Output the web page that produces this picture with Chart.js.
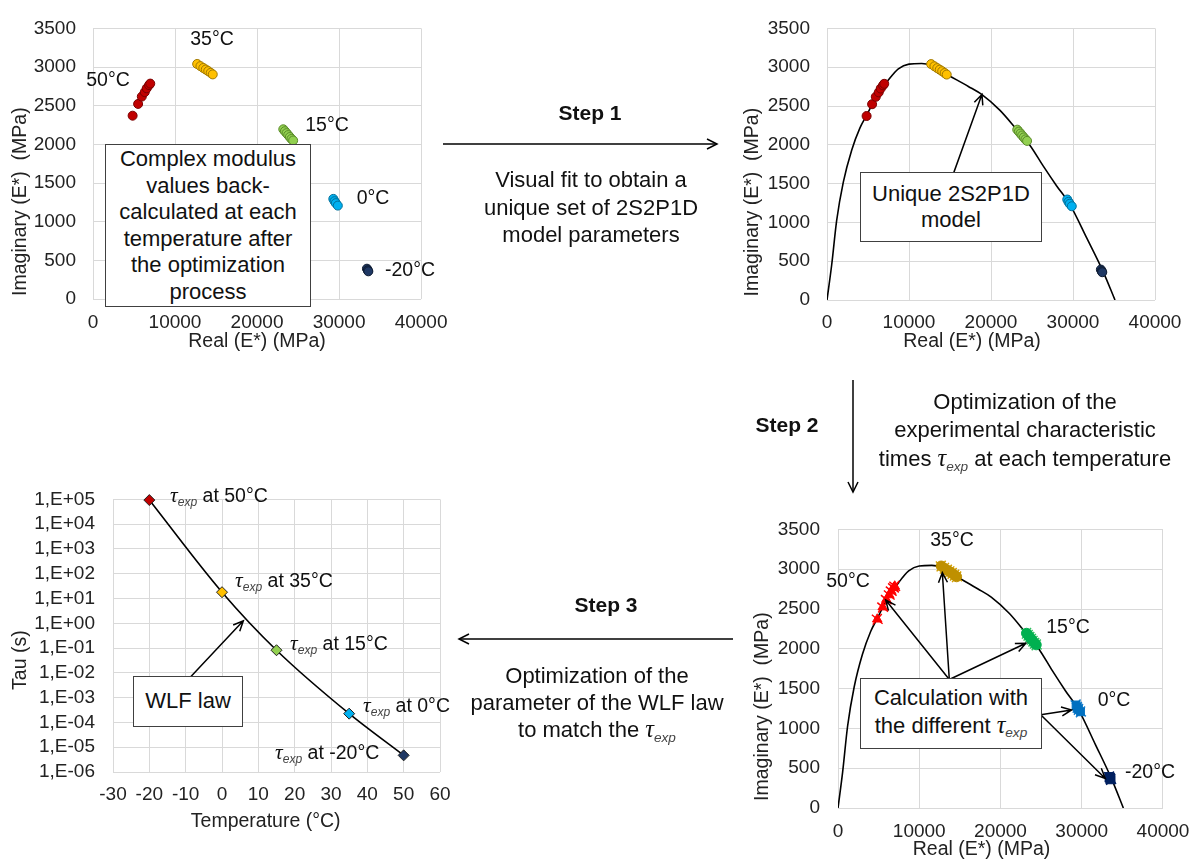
<!DOCTYPE html>
<html><head><meta charset="utf-8">
<script src="https://cdn.jsdelivr.net/npm/chart.js@4.4.1/dist/chart.umd.min.js"></script>
<style>
body{margin:0;width:1202px;height:864px;background:#fff;position:relative;overflow:hidden;font-family:"Liberation Sans",Arial,sans-serif;color:#111}
canvas{position:absolute}
.box{position:absolute;border:1.5px solid #404040;background:#fff;box-sizing:border-box;display:flex;flex-direction:column;justify-content:center;align-items:center;text-align:center;font-size:22px;line-height:26.5px;z-index:3}
.txt{position:absolute;text-align:center;font-size:22px;white-space:nowrap;transform:translateX(-50%);z-index:3}
.bold{font-weight:bold;font-size:21px;transform:translate(-50%,-50%)}
.lbl{position:absolute;font-size:19.5px;white-space:nowrap;transform:translate(-50%,-50%);z-index:3}
.tl{position:absolute;font-size:19.5px;white-space:nowrap;transform:translateY(-50%);z-index:3}
.tau{font-family:"Liberation Serif","DejaVu Serif",serif;font-style:italic;font-size:1.1em}
.sb{font-style:italic;font-size:0.62em;position:relative;top:0.35em;color:#444}
svg{position:absolute;left:0;top:0;z-index:2}
</style></head>
<body>
<canvas id="c1" width="460" height="360" style="left:0;top:0"></canvas>
<canvas id="c2" width="462" height="360" style="left:740px;top:0"></canvas>
<canvas id="c3" width="470" height="370" style="left:0;top:470px"></canvas>
<canvas id="c4" width="462" height="364" style="left:740px;top:500px"></canvas>

<svg width="1202" height="864">
  <g stroke="#000" stroke-width="1.5" fill="none">
    <line x1="443" y1="144" x2="717" y2="144"/><polyline points="707,139 717,144 707,149"/>
    <line x1="853" y1="380" x2="853" y2="492"/><polyline points="848,482 853,492 858,482"/>
    <line x1="733" y1="639" x2="459" y2="639"/><polyline points="469,634 459,639 469,644"/>
  </g>
</svg>

<div class="txt bold" style="left:590px;top:113px">Step 1</div>
<div class="txt" style="left:591px;top:166px;line-height:27.5px">Visual fit to obtain a<br>unique set of 2S2P1D<br>model parameters</div>
<div class="txt bold" style="left:787px;top:425px">Step 2</div>
<div class="txt" style="left:1025px;top:388px;line-height:28px">Optimization of the<br>experimental characteristic<br>times <span class="tau">τ</span><span class="sb">exp</span> at each temperature</div>
<div class="txt bold" style="left:606px;top:605px">Step 3</div>
<div class="txt" style="left:597px;top:663px;line-height:26.5px">Optimization of the<br>parameter of the WLF law<br>to match the <span class="tau">τ</span><span class="sb">exp</span></div>

<div class="box" style="left:105px;top:144px;width:206px;height:163px"><div>Complex modulus<br>values back-<br>calculated at each<br>temperature after<br>the optimization<br>process</div></div>
<div class="box" style="left:860px;top:172px;width:182px;height:70px"><div>Unique 2S2P1D<br>model</div></div>
<div class="box" style="left:133px;top:676px;width:110px;height:51px"><div>WLF law</div></div>
<div class="box" style="left:860px;top:678px;width:182px;height:71px"><div style="white-space:nowrap">Calculation with<br>the different <span class="tau">τ</span><span class="sb">exp</span></div></div>

<div class="lbl" style="left:212px;top:38px">35°C</div>
<div class="lbl" style="left:108px;top:79px">50°C</div>
<div class="lbl" style="left:327px;top:124px">15°C</div>
<div class="lbl" style="left:373px;top:197px">0°C</div>
<div class="lbl" style="left:410px;top:269px">-20°C</div>

<div class="lbl" style="left:952px;top:539px">35°C</div>
<div class="lbl" style="left:848px;top:580px">50°C</div>
<div class="lbl" style="left:1068px;top:626px">15°C</div>
<div class="lbl" style="left:1114px;top:699px">0°C</div>
<div class="lbl" style="left:1150px;top:771px">-20°C</div>

<div class="tl" style="left:170px;top:495px"><span class="tau">τ</span><span class="sb">exp</span> at 50°C</div>
<div class="tl" style="left:235px;top:580px"><span class="tau">τ</span><span class="sb">exp</span> at 35°C</div>
<div class="tl" style="left:290px;top:643px"><span class="tau">τ</span><span class="sb">exp</span> at 15°C</div>
<div class="tl" style="left:363px;top:705px"><span class="tau">τ</span><span class="sb">exp</span> at 0°C</div>
<div class="tl" style="left:275px;top:752px"><span class="tau">τ</span><span class="sb">exp</span> at -20°C</div>

<script>
// ---------- data ----------
const re50 = [4830, 5500, 5950, 6310, 6550, 6830, 6980];
const im50 = [2371, 2523, 2618, 2676, 2725, 2766, 2786];
const re35 = [12700, 13100, 13450, 13750, 14050, 14350, 14600];
const im35 = [3040, 3012, 2988, 2968, 2948, 2925, 2905];
const re15 = [23200, 23400, 23600, 23800, 24000, 24200, 24400];
const im15 = [2195, 2170, 2145, 2120, 2095, 2070, 2050];
const re0 = [29300, 29450, 29600, 29850];
const im0 = [1295, 1265, 1240, 1208];
const reM20 = [33400, 33500, 33570];
const imM20 = [392, 372, 358];

const curveRe = [0, 570, 1180, 1990, 3010, 4020, 4840, 5850, 7480, 8700, 10000, 11540, 12760, 14800, 17240, 18860, 21100, 23130, 24760, 26380, 28010, 29630, 31670, 33700, 35120];
const curveIm = [0, 451, 1027, 1520, 1931, 2218, 2382, 2588, 2834, 2978, 3040, 3048, 3019, 2896, 2752, 2650, 2444, 2197, 1992, 1725, 1470, 1230, 800, 360, 0];

const temps = [-20, 0, 15, 35, 50];
const tauExp = [9.4e4, 18, 0.082, 2.26e-4, 4.7e-6];
const tauTicks = [1e-6, 1e-5, 1e-4, 1e-3, 1e-2, 1e-1, 1, 1e1, 1e2, 1e3, 1e4, 1e5];
const tauTickLabels = ['1,E-06','1,E-05','1,E-04','1,E-03','1,E-02','1,E-01','1,E+00','1,E+01','1,E+02','1,E+03','1,E+04','1,E+05'];

// ---------- helpers ----------
const txtC = '#222', gridC = '#d9d9d9';
Chart.defaults.font.family = '"Liberation Sans", Arial, sans-serif';
Chart.defaults.color = txtC;
const xy = (xs, ys) => xs.map((v, i) => ({x: v, y: ys[i]}));
const sp = n => '\u00a0'.repeat(n);

function axis(opts) {
  return Object.assign({
    type: 'linear',
    ticks: {stepSize: opts.step, padding: opts.tickPad, color: txtC, font: {size: 19}, callback: v => String(v), maxRotation: 0, minRotation: 0, autoSkip: false},
    grid: {color: gridC, drawTicks: false, lineWidth: 1},
    border: {display: false},
    title: {display: true, text: opts.title, color: txtC, font: {size: 19.5}, padding: opts.titlePad},
    afterFit: s => { s[opts.fitProp] = opts.fitVal; }
  }, {min: opts.min, max: opts.max});
}

const arrowPlugin = {
  id: 'arrows',
  afterDatasetsDraw(chart, args, o) {
    const {ctx, scales: {x, y}} = chart;
    ctx.save();
    ctx.strokeStyle = '#000'; ctx.lineWidth = 1.5;
    (o.list || []).forEach(a => {
      const x1 = x.getPixelForValue(a[0]), y1 = y.getPixelForValue(a[1]);
      const x2 = x.getPixelForValue(a[2]), y2 = y.getPixelForValue(a[3]);
      const ang = Math.atan2(y2 - y1, x2 - x1), h = 11;
      ctx.beginPath();
      ctx.moveTo(x1, y1); ctx.lineTo(x2, y2);
      ctx.moveTo(x2 - h * Math.cos(ang - 0.42), y2 - h * Math.sin(ang - 0.42));
      ctx.lineTo(x2, y2);
      ctx.lineTo(x2 - h * Math.cos(ang + 0.42), y2 - h * Math.sin(ang + 0.42));
      ctx.stroke();
    });
    ctx.restore();
  }
};

function ptSet(xs, ys, fill, border, style, r) {
  return {data: xy(xs, ys), backgroundColor: fill, borderColor: border, borderWidth: 1, pointStyle: style || 'circle', pointRadius: r || 4.5, pointHoverRadius: r || 4.5, clip: false};
}
const curveSet = () => ({data: xy(curveRe, curveIm), showLine: true, borderColor: '#000', borderWidth: 1.6, pointRadius: 0, cubicInterpolationMode: 'monotone', fill: false});

const baseOpts = (pad, xAx, yAx, arrows) => ({
  responsive: false, animation: false, devicePixelRatio: 1,
  layout: {padding: pad},
  plugins: {legend: {display: false}, tooltip: {enabled: false}, arrows: {list: arrows || []}},
  scales: {x: xAx, y: yAx}
});

const topSets = () => [
  ptSet(re50, im50, '#c00000', '#7a0000'),
  ptSet(re35, im35, '#ffc000', '#a07800'),
  ptSet(re15, im15, '#92d050', '#5a8a2a'),
  ptSet(re0, im0, '#00b0f0', '#00709a'),
  ptSet(reM20, imM20, '#1f3864', '#0d1a30')
];

// ---------- chart 1 : top-left ----------
new Chart(document.getElementById('c1'), {
  type: 'scatter',
  data: {datasets: topSets()},
  options: baseOpts({left: 0, top: 16, right: 33, bottom: 0},
    axis({min: 0, max: 40000, step: 10000, tickPad: 12.5, title: 'Real (E*) (MPa)', titlePad: {top: 0, bottom: 6.6}, fitProp: 'height', fitVal: 61}),
    axis({min: 0, max: 3500, step: 500, tickPad: 17, title: 'Imaginary (E*)  (MPa)' + sp(14), titlePad: {top: 8.6, bottom: 0}, fitProp: 'width', fitVal: 93}))
});

// ---------- chart 2 : top-right ----------
new Chart(document.getElementById('c2'), {
  type: 'scatter',
  data: {datasets: [...topSets(), curveSet()]},
  options: baseOpts({left: 0, top: 16, right: 47, bottom: 0},
    axis({min: 0, max: 40000, step: 10000, tickPad: 11.6, title: 'Real (E*) (MPa)' + sp(7), titlePad: {top: 0, bottom: 6.6}, fitProp: 'height', fitVal: 60}),
    axis({min: 0, max: 3500, step: 500, tickPad: 17, title: 'Imaginary (E*)  (MPa)' + sp(14), titlePad: {top: 0.6, bottom: 0}, fitProp: 'width', fitVal: 87}),
    [[15240, 1577, 18900, 2650]]),
  plugins: [arrowPlugin]
});

// ---------- chart 3 : bottom-left (WLF) ----------
const tauColors = ['#c00000', '#ffc000', '#92d050', '#00b0f0', '#1f3864'];
const xT = axis({min: -30, max: 60, step: 10, tickPad: 11.6, title: 'Temperature (°C)' + sp(4), titlePad: {top: 0, bottom: 6.6}, fitProp: 'height', fitVal: 68});
const yT = {
  type: 'logarithmic', min: 1e-6, max: 1e5,
  afterBuildTicks: s => { s.ticks = tauTicks.map(v => ({value: v})); },
  ticks: {padding: 18, color: txtC, font: {size: 19}, autoSkip: false, callback: v => tauTickLabels[tauTicks.indexOf(v)]},
  grid: {color: gridC, drawTicks: false},
  border: {display: false},
  title: {display: true, text: 'Tau (s)' + sp(9), color: txtC, font: {size: 19.5}, padding: {top: 8.6, bottom: 0}},
  afterFit: s => { s.width = 113; }
};
new Chart(document.getElementById('c3'), {
  type: 'scatter',
  data: {datasets: [
    {data: xy(temps, tauExp), backgroundColor: tauColors, borderColor: '#222', borderWidth: 1, pointStyle: 'rectRot', pointRadius: 5.5, pointHoverRadius: 5.5, clip: false},
    {data: xy(temps, tauExp), showLine: true, borderColor: '#000', borderWidth: 1.6, pointRadius: 0, cubicInterpolationMode: 'monotone'}
  ]},
  options: baseOpts({left: 0, top: 25, right: 30, bottom: 0}, xT, yT, [[-8.8, 6.5e-3, 5.87, 1.27]]),
  plugins: [arrowPlugin]
});

// ---------- chart 4 : bottom-right ----------
const errSet = (xs, ys, c) => ({data: xy(xs, ys), borderColor: c, backgroundColor: c, borderWidth: 1.5, pointStyle: 'cross', pointRotation: 40, pointRadius: 7, pointHoverRadius: 7, clip: false});
new Chart(document.getElementById('c4'), {
  type: 'scatter',
  data: {datasets: [
    ptSet(re50, im50, '#ff0000', '#ff0000', 'triangle', 5.5), errSet(re50, im50, '#ff0000'),
    ptSet(re35, im35, '#bf9000', '#bf9000', 'circle', 5), errSet(re35, im35, '#d4a000'),
    ptSet(re15, im15, '#00b050', '#00b050', 'circle', 5), errSet(re15, im15, '#33c060'),
    ptSet(re0, im0, '#0070c0', '#0070c0', 'rect', 5.5), errSet(re0, im0, '#1a80d0'),
    ptSet(reM20, imM20, '#002060', '#002060', 'rect', 6), errSet(reM20, imM20, '#002060'),
    curveSet()
  ]},
  options: baseOpts({left: 0, top: 24, right: 37, bottom: 0},
    axis({min: 0, max: 40000, step: 10000, tickPad: 12.6, title: 'Real (E*) (MPa)' + sp(7), titlePad: {top: 0, bottom: 2.6}, fitProp: 'height', fitVal: 56}),
    axis({min: 0, max: 3500, step: 500, tickPad: 18, title: 'Imaginary (E*)  (MPa)' + sp(14), titlePad: {top: 10.6, bottom: 0}, fitProp: 'width', fitVal: 98}),
    [[13700, 1614, 5870, 2613], [13700, 1614, 12840, 2958], [13700, 1614, 23120, 2070], [24950, 1171, 28750, 1232], [24950, 1171, 32900, 370]]),
  plugins: [arrowPlugin]
});
</script>
</body></html>
